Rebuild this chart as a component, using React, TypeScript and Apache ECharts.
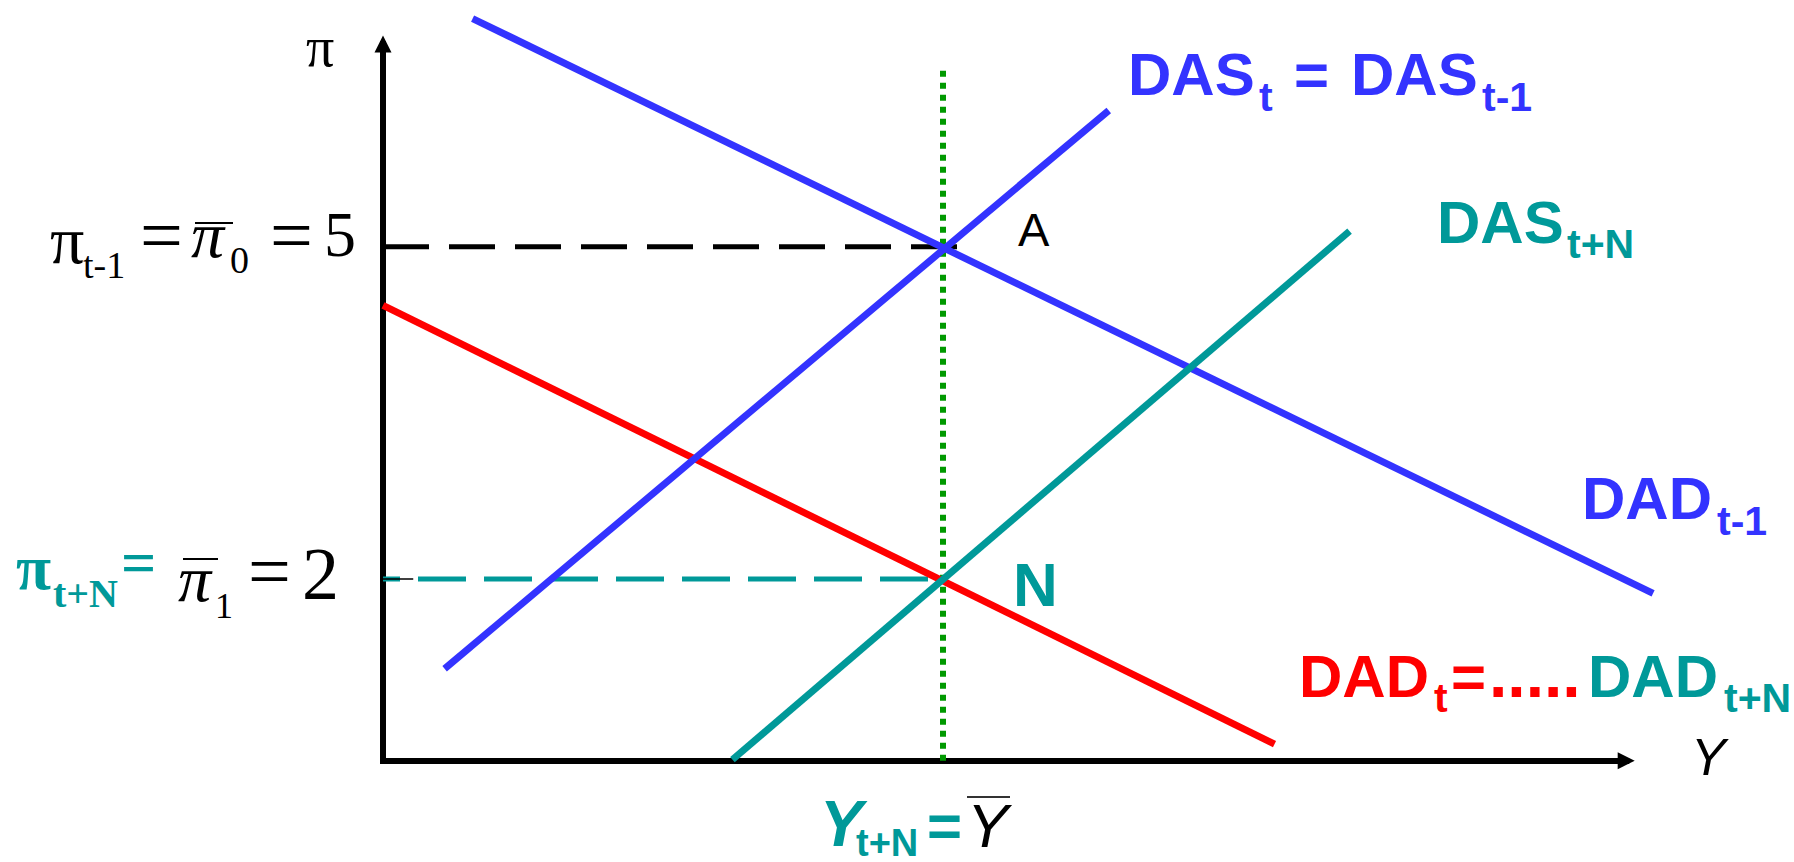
import React, { useEffect, useRef } from "react";
import * as echarts from "echarts";

// Axis ranges (Y output on x axis, inflation π on y axis)
const X_RANGE = [0, 11.1]; // visible axis with arrow
const X_DATA_RANGE = [0, 11.4]; // drawing frame (same scale) so curves can run past the arrow
const PI_RANGE = [0.36, 6.83];

// Curves (Y, π) endpoints
const DAD_PREV = [[0.8, 7.06], [11.34, 1.87]];
const DAS_T = [[0.55, 1.19], [6.48, 6.23]];
const DAS_TN = [[3.12, 0.37], [8.63, 5.14]];
const DAD_T = [[0, 4.47], [7.96, 0.51]];

// Equilibria
const Y_BAR = 5;
const PI_0 = 5;
const PI_1 = 2;

// Guides
const GUIDE_PI0 = [[0, PI_0], [5.13, PI_0]];
const GUIDE_PI1 = [[0, PI_1], [4.87, PI_1]];
const VERTICAL_YBAR = [[Y_BAR, PI_RANGE[0]], [Y_BAR, 6.64]];
const TICK_PI1 = [[-0.14, PI_1], [0.27, PI_1]];

const BLUE = "#3333FF";
const TEAL = "#009999";
const RED = "#FF0000";
const GREEN = "#009900";
const BLACK = "#000000";

const SERIF = "Liberation Serif";
const SANS = "Liberation Sans";

const PX_PER_X = 112;
const GRID_LEFT = 383;
const GRID_TOP = 44;
const GRID_BOTTOM = 101.3;
const W = 1794;

function T(
  text: string,
  x: number,
  baseline: number,
  size: number,
  color: string,
  family: string,
  bold = false,
  italic = false
) {
  return {
    type: "text",
    x,
    y: baseline - 0.345 * size,
    silent: true,
    style: {
      text,
      fill: color,
      fontSize: size,
      fontFamily: family,
      fontWeight: bold ? "bold" : "normal",
      fontStyle: italic ? "italic" : "normal",
      align: "left",
      verticalAlign: "middle",
    },
  };
}

function L(x1: number, y1: number, x2: number, y2: number, color: string, w: number) {
  return {
    type: "line",
    silent: true,
    shape: { x1, y1, x2, y2 },
    style: { stroke: color, lineWidth: w },
  };
}

function seg(data: number[][], color: string, width: number, type: any = "solid", z = 2, extra: any = {}) {
  return {
    type: "line",
    xAxisIndex: 0,
    yAxisIndex: 0,
    data,
    symbol: "none",
    showSymbol: false,
    clip: false,
    silent: true,
    z,
    lineStyle: { color, width, type, cap: "butt", ...extra },
  };
}

export default function App() {
  const ref = useRef<HTMLDivElement>(null);
  useEffect(() => {
    if (!ref.current) return;
    const chart = echarts.init(ref.current, undefined, { renderer: "svg" });
    const arrowLine = {
      show: true,
      symbol: ["none", "triangle"],
      symbolSize: [17, 17],
      lineStyle: { color: BLACK, width: 6, cap: "square" },
    };
    const hidden = {
      axisTick: { show: false },
      axisLabel: { show: false },
      splitLine: { show: false },
    };
    const rightData = W - (GRID_LEFT + (X_DATA_RANGE[1] - X_DATA_RANGE[0]) * PX_PER_X);
    const rightAxis = W - (GRID_LEFT + (X_RANGE[1] - X_RANGE[0]) * PX_PER_X);
    chart.setOption({
      animation: false,
      backgroundColor: "#ffffff",
      grid: [
        { left: GRID_LEFT, right: rightData, top: GRID_TOP, bottom: GRID_BOTTOM, containLabel: false },
        { left: GRID_LEFT, right: rightAxis, top: GRID_TOP, bottom: GRID_BOTTOM, containLabel: false },
      ],
      xAxis: [
        { type: "value", gridIndex: 0, min: X_DATA_RANGE[0], max: X_DATA_RANGE[1], ...hidden, axisLine: { show: false } },
        { type: "value", gridIndex: 1, min: X_RANGE[0], max: X_RANGE[1], ...hidden, axisLine: arrowLine },
      ],
      yAxis: [
        { type: "value", gridIndex: 0, min: PI_RANGE[0], max: PI_RANGE[1], ...hidden, axisLine: arrowLine },
        { type: "value", gridIndex: 1, min: PI_RANGE[0], max: PI_RANGE[1], show: false },
      ],
      series: [
        seg(GUIDE_PI0, BLACK, 5, [46, 20], 1),
        seg(GUIDE_PI1, TEAL, 5, [48, 18], 1, { dashOffset: 31 }),
        seg(TICK_PI1, BLACK, 1.5, "solid", 1),
        seg(VERTICAL_YBAR, GREEN, 6, [6, 6], 2),
        seg(DAD_T, RED, 7, "solid", 3),
        seg(DAS_T, BLUE, 7, "solid", 3),
        seg(DAD_PREV, BLUE, 7, "solid", 3),
        seg(DAS_TN, TEAL, 7, "solid", 3),
      ],
      graphic: [
        // axis titles
        T("π", 306, 66, 56, BLACK, SERIF),
        T("Y", 1691, 775, 52, BLACK, SANS, false, true),
        // π_{t-1} = π̄_0 = 5
        T("π", 50, 263, 68, BLACK, SERIF),
        T("t-1", 83, 278, 38, BLACK, SERIF),
        T("=", 140, 261, 76, BLACK, SERIF),
        T("π", 191, 257, 66, BLACK, SERIF, false, true),
        L(195, 223, 233, 223, BLACK, 2),
        T("0", 230, 273, 38, BLACK, SERIF),
        T("=", 270, 261, 76, BLACK, SERIF),
        T("5", 324, 257, 64, BLACK, SERIF),
        // π_{t+N} = π̄_1 = 2
        T("π", 16, 590, 64, TEAL, SERIF, true),
        T("t+N", 53, 607, 40, TEAL, SERIF, true),
        T("=", 121, 583, 62, TEAL, SERIF, true),
        T("π", 178, 601, 66, BLACK, SERIF, false, true),
        L(183, 559, 218, 559, BLACK, 2),
        T("1", 215, 618, 36, BLACK, SERIF),
        T("=", 248, 597, 76, BLACK, SERIF),
        T("2", 302, 600, 74, BLACK, SERIF),
        // DAS_t = DAS_t-1
        T("DAS", 1128, 95, 60, BLUE, SANS, true),
        T("t", 1259, 111, 41, BLUE, SANS, true),
        T("=", 1294, 95, 60, BLUE, SANS, true),
        T("DAS", 1351, 95, 60, BLUE, SANS, true),
        T("t-1", 1482, 111, 41, BLUE, SANS, true),
        // DAS_t+N
        T("DAS", 1437, 243, 60, TEAL, SANS, true),
        T("t+N", 1567, 258, 41, TEAL, SANS, true),
        // points
        T("A", 1018, 246, 47, BLACK, SANS),
        T("N", 1013, 606, 62, TEAL, SANS, true),
        // DAD_t-1
        T("DAD", 1582, 519, 60, BLUE, SANS, true),
        T("t-1", 1717, 535, 41, BLUE, SANS, true),
        // DAD_t = ..... DAD_t+N
        T("DAD", 1299, 697, 60, RED, SANS, true),
        T("t", 1434, 712, 41, RED, SANS, true),
        T("=", 1451, 697, 60, RED, SANS, true),
        T(".....", 1489, 697, 66, RED, SANS, true),
        T("DAD", 1588, 697, 60, TEAL, SANS, true),
        T("t+N", 1724, 712, 41, TEAL, SANS, true),
        // Y_t+N = Ȳ
        T("Y", 820, 846, 64, TEAL, SANS, true, true),
        T("t+N", 856, 856, 38, TEAL, SANS, true),
        T("=", 927, 846, 60, TEAL, SANS, true),
        T("Y", 967, 847, 62, BLACK, SANS, false, true),
        L(967, 797, 1010, 797, "#333333", 2),
      ],
    });
    return () => chart.dispose();
  }, []);
  return (
    <div
      ref={ref}
      style={{ position: "absolute", left: 0, top: 0, width: 1794, height: 862, background: "#fff" }}
    />
  );
}
